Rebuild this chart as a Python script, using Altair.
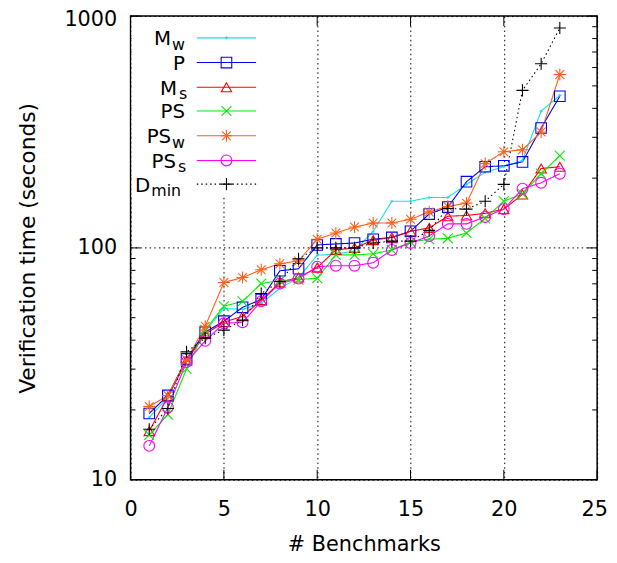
import altair as alt
import pandas as pd

# ---------------- data ----------------
benchmarks = list(range(1, 24))
series_names = ["M_w", "P", "M_s", "PS", "PS_w", "PS_s", "D_min"]

m_w = [18.6, 22.6, 32.9, 43.8, 54.8, 54.3, 57.6, 66.8, 74.5, 93, 94, 97,
       118, 159, 159, 165, 165, 188, 212, 224, 239, 389, 455]
p = [19.3, 23.1, 33.2, 43.3, 48.3, 55.4, 59.9, 79.7, 81.3, 103, 104, 105,
     109, 111, 118, 140, 150, 193, 224, 226, 235, 329, 451]
m_s = [16.2, 22.8, 32.6, 42.5, 47.8, 50.7, 59.4, 71.0, 74.5, 82.2, 98, 100,
       108, 111, 118, 122, 137, 138, 141, 147, 170, 220, 224]
ps = [15.6, 19.1, 30.1, 44.3, 56.0, 58.8, 70.2, 72.3, 73, 74, 93.3, 93.3,
      94.3, 98, 106, 109, 110, 116, 134, 159, 171, 209, 250]
ps_w = [20.7, 23.1, 32.9, 45.9, 70.9, 74.5, 80.5, 85.4, 87.9, 109, 116, 123,
        128, 128, 133, 143, 151, 156, 231, 260, 265, 316, 560]
ps_s = [14.0, 20.5, 32.2, 39.7, 47.3, 47.8, 58.8, 70.2, 73.7, 83, 83.8, 83.8,
        86.3, 98, 105, 112.5, 127, 127, 136, 147, 180, 191, 209]
d_min = [16.5, 20.3, 35.6, 40.8, 44.2, 48.8, 63.6, 71.6, 89.7, 100, 100, 100,
         105, 107, 107, 119, 148, 147, 159, 188, 478, 623, 889]

x_ticks = [0, 5, 10, 15, 20, 25]
y_major = [10, 100, 1000]
y_minor = [20, 30, 40, 50, 60, 70, 80, 90, 200, 300, 400, 500, 600, 700, 800, 900]

legend_main = ["M", "P", "M", "PS", "PS", "PS", "D"]
legend_sub = ["w", "", "s", "", "w", "s", "min"]

# ---------------- styles ----------------
colors = ["#12e2e2", "#0000ff", "#ff0000", "#00ee00", "#ff6018", "#ff00ff", "#000000"]
shapes = [
    "M-1,0L1,0M0,-1L0,1",
    "square",
    "triangle-up",
    "M-1,-1L1,1M-1,1L1,-1",
    "M-1,0L1,0M0,-1L0,1M-0.72,-0.72L0.72,0.72M-0.72,0.72L0.72,-0.72",
    "circle",
    "M-1,0L1,0M0,-1L0,1",
]
sizes = [9, 115, 110, 100, 150, 120, 150]
dashes = [[1, 0]] * 6 + [[1.5, 3]]

W, H = 472, 469
FONT = "DejaVu Sans"

series_values = [m_w, p, m_s, ps, ps_w, ps_s, d_min]
rows = []
for name, vals, sz in zip(series_names, series_values, sizes):
    for xv, yv in zip(benchmarks, vals):
        rows.append({"series": name, "x": xv, "y": yv, "sz": sz})
df = pd.DataFrame(rows)

x_scale = alt.Scale(domain=[0, 25], nice=False, zero=False)
y_scale = alt.Scale(type="log", domain=[10, 1000], nice=False)
color_scale = alt.Scale(domain=series_names, range=colors)
shape_scale = alt.Scale(domain=series_names, range=shapes)
dash_scale = alt.Scale(domain=series_names, range=dashes)

grid_dash = [1.5, 3.2]

x_axis = alt.Axis(
    values=x_ticks, tickSize=0, domain=False, grid=True, gridDash=grid_dash,
    gridColor="#000", gridWidth=1, labelFontSize=21, labelFont=FONT,
    labelColor="#000", labelPadding=19, labelFlush=False, labelOverlap=False,
    labelOffset={"condition": {"test": "datum.value == 25", "value": -3}, "value": 0},
    title="# Benchmarks", titleFontSize=21, titleFont=FONT,
    titleFontWeight="normal", titleColor="#000", titleY=66,
    titleBaseline="middle",
)
y_axis = alt.Axis(
    values=y_major, format="d", tickSize=0, domain=False, grid=True,
    gridDash=grid_dash, gridColor="#000", gridWidth=1, labelFontSize=21,
    labelFont=FONT, labelColor="#000", labelPadding=14, labelFlush=False,
    labelOverlap=False,
    labelOffset={"condition": {"test": "datum.value == 1000", "value": 4}, "value": 0},
    title="Verification time (seconds)",
    titleFontSize=22, titleFont=FONT, titleFontWeight="normal",
    titleColor="#000", titleX=-104, titleY=H / 2, titleBaseline="middle",
)

X = alt.X("x:Q", scale=x_scale)
Y = alt.Y("y:Q", scale=y_scale)

# ---------------- data layers (first, they carry the axes) ----------------
lines = alt.Chart(df).mark_line(strokeWidth=1.1).encode(
    x=alt.X("x:Q", scale=x_scale, axis=x_axis),
    y=alt.Y("y:Q", scale=y_scale, axis=y_axis),
    color=alt.Color("series:N", scale=color_scale, legend=None),
    strokeDash=alt.StrokeDash("series:N", scale=dash_scale, legend=None),
    detail="series:N",
)
points = alt.Chart(df).mark_point(filled=False, strokeWidth=1.1, opacity=1).encode(
    x=X, y=Y,
    color=alt.Color("series:N", scale=color_scale, legend=None),
    shape=alt.Shape("series:N", scale=shape_scale, legend=None),
    size=alt.Size("sz:Q", scale=None, legend=None),
)

# ---------------- inward ticks ----------------
xt = pd.DataFrame({"x": x_ticks})
ymaj = pd.DataFrame({"y": y_major})
ymin = pd.DataFrame({"y": y_minor})

tick_style = dict(color="#000", strokeWidth=1)
ticks = [
    alt.Chart(xt).mark_rule(**tick_style).encode(x=X, y=alt.value(H), y2=alt.value(H - 10)),
    alt.Chart(xt).mark_rule(**tick_style).encode(x=X, y=alt.value(0), y2=alt.value(10)),
    alt.Chart(ymaj).mark_rule(**tick_style).encode(y=Y, x=alt.value(0), x2=alt.value(10)),
    alt.Chart(ymaj).mark_rule(**tick_style).encode(y=Y, x=alt.value(W), x2=alt.value(W - 10)),
    alt.Chart(ymin).mark_rule(**tick_style).encode(y=Y, x=alt.value(0), x2=alt.value(5)),
    alt.Chart(ymin).mark_rule(**tick_style).encode(y=Y, x=alt.value(W), x2=alt.value(W - 5)),
]

# ---------------- legend background ----------------
bg = alt.Chart(pd.DataFrame({"a": [0]})).mark_rect(color="white").encode(
    x=alt.value(1), x2=alt.value(134), y=alt.value(1), y2=alt.value(183)
)

# ---------------- hand-made legend (gnuplot style key) ----------------
row_y = [22, 47, 72, 96, 121, 146, 170]
anchor_x = [41, 55, 47, 55, 41, 46, 20]
sub_gap = [1, 0, 2, 0, 1, 2, 1]
leg = pd.DataFrame({
    "series": series_names,
    "main": legend_main,
    "sub": legend_sub,
    "ly": row_y,
    "lx1": [67] * 7,
    "lx2": [127] * 7,
    "mx": [97] * 7,
    "sz": sizes,
    "tx": anchor_x,
    "sx": [a + g for a, g in zip(anchor_x, sub_gap)],
    "ty": [r + 7.5 for r in row_y],
    "sy": [r + 12 for r in row_y],
})

leg_lines = alt.Chart(leg).mark_rule(strokeWidth=1.1).encode(
    x=alt.X("lx1:Q", scale=None), x2="lx2:Q", y=alt.Y("ly:Q", scale=None),
    color=alt.Color("series:N", scale=color_scale, legend=None),
    strokeDash=alt.StrokeDash("series:N", scale=dash_scale, legend=None),
)
leg_pts = alt.Chart(leg).mark_point(filled=False, strokeWidth=1.1, opacity=1).encode(
    x=alt.X("mx:Q", scale=None), y=alt.Y("ly:Q", scale=None),
    color=alt.Color("series:N", scale=color_scale, legend=None),
    shape=alt.Shape("series:N", scale=shape_scale, legend=None),
    size=alt.Size("sz:Q", scale=None, legend=None),
)
leg_main = alt.Chart(leg).mark_text(
    align="right", baseline="alphabetic", fontSize=20, font=FONT, color="#000"
).encode(x=alt.X("tx:Q", scale=None), y=alt.Y("ty:Q", scale=None), text="main:N")
leg_sub = alt.Chart(leg).mark_text(
    align="left", baseline="alphabetic", fontSize=16, font=FONT, color="#000"
).encode(x=alt.X("sx:Q", scale=None), y=alt.Y("sy:Q", scale=None), text="sub:N")

chart = alt.layer(
    lines, points, *ticks, bg, leg_lines, leg_pts, leg_main, leg_sub
).properties(
    width=W, height=H,
    autosize=alt.AutoSizeParams(type="none"),
    padding={"left": 124, "top": 5, "right": 12, "bottom": 76},
    background="white",
).configure_view(stroke="#000", strokeWidth=1.5)

chart.save("out.html", embed_options={"renderer": "svg", "actions": False})
